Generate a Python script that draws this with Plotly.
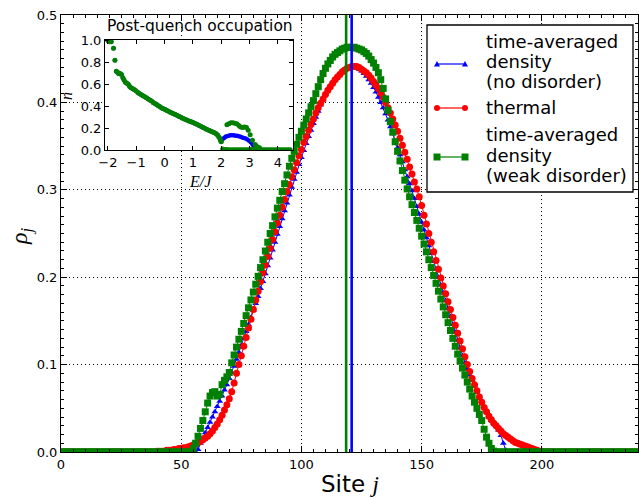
import plotly.graph_objects as go

# ---------------- main panel data ----------------
sites = list(range(0, 241))

thermal_start = 40
thermal_vals = [
    0.001, 0.001, 0.001, 0.001, 0.002, 0.002, 0.002, 0.003, 0.003, 0.004,
    0.004, 0.005, 0.005, 0.006, 0.007, 0.008, 0.009, 0.011, 0.012, 0.014,
    0.016, 0.018, 0.021, 0.024, 0.028, 0.032, 0.037, 0.042, 0.048, 0.054,
    0.061, 0.069, 0.079, 0.090, 0.100, 0.110, 0.121, 0.131, 0.142, 0.152,
    0.163, 0.174, 0.184, 0.195, 0.205, 0.214, 0.224, 0.233, 0.243, 0.252,
    0.262, 0.271, 0.280, 0.289, 0.298, 0.306, 0.315, 0.323, 0.331, 0.339,
    0.346, 0.354, 0.361, 0.368, 0.375, 0.381, 0.388, 0.394, 0.399, 0.404,
    0.409, 0.414, 0.418, 0.422, 0.426, 0.429, 0.432, 0.435, 0.437, 0.439,
    0.440, 0.441, 0.441, 0.441, 0.440, 0.438, 0.436, 0.434, 0.431, 0.428,
    0.424, 0.420, 0.416, 0.411, 0.406, 0.400, 0.394, 0.388, 0.381, 0.374,
    0.367, 0.359, 0.351, 0.343, 0.335, 0.326, 0.318, 0.309, 0.301, 0.292,
    0.282, 0.271, 0.261, 0.250, 0.240, 0.229, 0.219, 0.209, 0.199, 0.190,
    0.181, 0.172, 0.163, 0.154, 0.145, 0.136, 0.127, 0.118, 0.109, 0.100,
    0.092, 0.084, 0.077, 0.070, 0.063, 0.057, 0.051, 0.046, 0.041, 0.037,
    0.033, 0.030, 0.027, 0.024, 0.021, 0.019, 0.017, 0.015, 0.013, 0.011,
    0.010, 0.009, 0.008, 0.007, 0.006, 0.005, 0.004, 0.003, 0.002, 0.001, 0.001,
]

clean_start = 57
clean_vals = [
    0.003, 0.010, 0.016,
    0.022, 0.028, 0.034, 0.040, 0.046, 0.052, 0.058, 0.064, 0.071, 0.077,
    0.084, 0.091, 0.098, 0.106, 0.114, 0.122, 0.130, 0.138, 0.146, 0.154,
    0.162, 0.170, 0.178, 0.187, 0.195, 0.204, 0.213, 0.222, 0.231, 0.240,
    0.249, 0.258, 0.267, 0.276, 0.285, 0.294, 0.303, 0.312, 0.320, 0.329,
    0.337, 0.345, 0.353, 0.361, 0.368, 0.376, 0.383, 0.390, 0.397, 0.403,
    0.409, 0.414, 0.419, 0.423, 0.427, 0.430, 0.433, 0.436, 0.438, 0.440,
    0.441, 0.441, 0.441, 0.440, 0.438, 0.436, 0.433, 0.430, 0.426, 0.422,
    0.417, 0.412, 0.406, 0.400, 0.394, 0.387, 0.380, 0.372, 0.364, 0.356,
    0.348, 0.340, 0.332, 0.323, 0.315, 0.307, 0.299, 0.290, 0.281, 0.272,
    0.263, 0.254, 0.245, 0.236, 0.227, 0.218, 0.209, 0.200, 0.191, 0.182,
    0.173, 0.164, 0.155, 0.146, 0.137, 0.128, 0.119, 0.110, 0.102, 0.095,
    0.088, 0.082, 0.076, 0.070, 0.064, 0.058, 0.052, 0.046, 0.040, 0.036,
    0.033, 0.030, 0.025, 0.019, 0.010, 0.002,
]

weak_start = 55
weak_vals = [
    0.004, 0.010, 0.018, 0.027, 0.036,
    0.046, 0.056, 0.064, 0.068, 0.069, 0.064, 0.066, 0.077, 0.082, 0.086,
    0.091, 0.102, 0.111, 0.120, 0.129, 0.138, 0.147, 0.156, 0.165, 0.174,
    0.183, 0.192, 0.201, 0.211, 0.220, 0.230, 0.240, 0.250, 0.259, 0.269,
    0.279, 0.288, 0.298, 0.307, 0.317, 0.327, 0.336, 0.344, 0.352, 0.360,
    0.367, 0.374, 0.381, 0.388, 0.395, 0.402, 0.410, 0.418, 0.426, 0.433,
    0.439, 0.444, 0.448, 0.452, 0.455, 0.457, 0.459, 0.461, 0.462, 0.463,
    0.463, 0.463, 0.463, 0.462, 0.461, 0.460, 0.458, 0.456, 0.453, 0.449,
    0.445, 0.440, 0.434, 0.426, 0.416, 0.404, 0.391, 0.378, 0.366, 0.355,
    0.344, 0.333, 0.322, 0.311, 0.301, 0.292, 0.283, 0.274, 0.265, 0.256,
    0.247, 0.238, 0.229, 0.220, 0.211, 0.202, 0.193, 0.184, 0.175, 0.166,
    0.157, 0.148, 0.139, 0.130, 0.121, 0.112, 0.104, 0.096, 0.088, 0.080,
    0.072, 0.064, 0.057, 0.050, 0.043, 0.036, 0.026, 0.017, 0.010, 0.004, 0.001,
]

center_clean = 120.9
center_weak = 118.6

# ---------------- inset data ----------------
E_band = [-2.00, -1.97, -1.93, -1.88, -1.80, -1.75, -1.70, -1.66, -1.62, -1.57,
          -1.52, -1.47, -1.43, -1.38, -1.33, -1.28, -1.23, -1.18, -1.12, -1.06,
          -1.00, -0.94, -0.88, -0.82, -0.76, -0.70, -0.64, -0.58, -0.52, -0.46,
          -0.40, -0.34, -0.28, -0.22, -0.16, -0.10, -0.04, 0.02, 0.08, 0.14,
          0.20, 0.26, 0.32, 0.38, 0.44, 0.50, 0.56, 0.62, 0.68, 0.74,
          0.80, 0.86, 0.92, 0.98, 1.04, 1.10, 1.16, 1.22, 1.28, 1.34,
          1.40, 1.46, 1.52, 1.58, 1.64, 1.70, 1.76, 1.82, 1.87, 1.91,
          1.95, 1.98, 2.00]
n_band = [1.00, 1.00, 0.99, 0.99, 0.93, 0.82, 0.72, 0.71, 0.70, 0.70,
          0.69, 0.66, 0.64, 0.62, 0.61, 0.60, 0.58, 0.57, 0.56, 0.55,
          0.54, 0.525, 0.515, 0.505, 0.495, 0.486, 0.477, 0.467, 0.458, 0.449,
          0.435, 0.425, 0.415, 0.405, 0.395, 0.385, 0.376, 0.370, 0.362, 0.354,
          0.346, 0.338, 0.331, 0.325, 0.317, 0.309, 0.301, 0.293, 0.285, 0.278,
          0.272, 0.266, 0.260, 0.253, 0.246, 0.240, 0.232, 0.224, 0.216, 0.208,
          0.200, 0.193, 0.186, 0.179, 0.172, 0.165, 0.158, 0.148, 0.136, 0.122,
          0.105, 0.085, 0.075]

E_clean_high = [2.05, 2.10, 2.15, 2.20, 2.26, 2.32, 2.38, 2.44, 2.50, 2.56,
                2.62, 2.68, 2.74, 2.80, 2.86, 2.92, 2.98, 3.04, 3.10, 3.15, 3.20]
n_clean_high = [0.100, 0.110, 0.120, 0.125, 0.130, 0.135, 0.135, 0.135, 0.130, 0.130,
                0.125, 0.120, 0.115, 0.110, 0.105, 0.095, 0.085, 0.070, 0.050, 0.030, 0.010]

E_weak_high = [2.20, 2.27, 2.34, 2.41, 2.48, 2.55, 2.62, 2.68, 2.75, 2.82,
               2.89, 2.95, 3.02, 3.10, 3.20, 3.28, 3.35]
n_weak_high = [0.230, 0.240, 0.250, 0.250, 0.245, 0.240, 0.225, 0.210, 0.205, 0.210,
               0.205, 0.180, 0.140, 0.090, 0.050, 0.030, 0.020]

E_weak_zero = [2.05, 2.12, 2.19, 2.26, 2.33, 2.40, 2.47, 2.54, 2.61, 2.68,
               2.75, 2.82, 2.89, 2.96, 3.03, 3.10, 3.17, 3.24, 3.31, 3.38,
               3.45, 3.52, 3.59, 3.66, 3.73, 3.80, 3.87, 3.94, 4.01, 4.08,
               4.15, 4.22, 4.29, 4.36, 4.43]
n_weak_zero = [0.010, 0.005, 0.004, 0.003, 0.003, 0.003, 0.003, 0.003, 0.003, 0.003,
               0.003, 0.003, 0.003, 0.003, 0.004, 0.006, 0.006, 0.005, 0.004, 0.003,
               0.002, 0.002, 0.002, 0.002, 0.002, 0.002, 0.002, 0.002, 0.002, 0.002,
               0.002, 0.002, 0.002, 0.002, 0.002]

legend_labels = [
    ["time-averaged", "density", "(no disorder)"],
    ["thermal"],
    ["time-averaged", "density", "(weak disorder)"],
]

# ---------------- styling ----------------
BLUE = "#0000ff"
RED = "#ff0000"
GREEN = "#008000"
FONT = "DejaVu Sans"
MATH = "Liberation Serif"


def pad(start, vals):
    return [0.0] * start + list(vals) + [0.0] * (len(sites) - start - len(vals))


fig = go.Figure()

fig.add_trace(go.Scatter(x=sites, y=pad(clean_start, clean_vals), mode="lines+markers",
                         line=dict(color=BLUE, width=1),
                         marker=dict(symbol="triangle-up", size=6, color=BLUE),
                         xaxis="x", yaxis="y"))
fig.add_trace(go.Scatter(x=sites, y=pad(thermal_start, thermal_vals), mode="lines+markers",
                         line=dict(color=RED, width=1),
                         marker=dict(symbol="circle", size=7, color=RED),
                         xaxis="x", yaxis="y"))
fig.add_trace(go.Scatter(x=sites, y=pad(weak_start, weak_vals), mode="lines+markers",
                         line=dict(color=GREEN, width=1),
                         marker=dict(symbol="square", size=7, color=GREEN),
                         xaxis="x", yaxis="y"))

# inset traces
fig.add_trace(go.Scatter(x=E_band + E_clean_high, y=n_band + n_clean_high, mode="markers",
                         marker=dict(symbol="circle", size=4.5, color=BLUE),
                         xaxis="x2", yaxis="y2"))
fig.add_trace(go.Scatter(x=E_band + E_weak_high + E_weak_zero,
                         y=n_band + n_weak_high + n_weak_zero, mode="markers",
                         marker=dict(symbol="circle", size=5, color=GREEN),
                         xaxis="x2", yaxis="y2"))

L, R, T, B = 61, 1, 15, 46
W, H = 639, 498
PW, PH = W - L - R, H - T - B


def px(x):
    return (x - L) / PW


def py(y):
    return (H - B - y) / PH


shapes = []
# centre-of-mass vertical lines
for c, col in ((center_weak, GREEN), (center_clean, BLUE)):
    shapes.append(dict(type="line", xref="x", yref="y domain", x0=c, x1=c, y0=0, y1=1,
                       line=dict(color=col, width=2.6), layer="above"))

# inset opaque background (drawn in the inset subplot, above the main grid)
shapes.append(dict(type="rect", xref="x2", yref="y2", x0=-2.1, x1=4.53, y0=0, y1=1.01,
                   fillcolor="white", line=dict(width=0), layer="below"))

# custom legend box
shapes.append(dict(type="rect", xref="paper", yref="paper",
                   x0=px(427), x1=px(633), y0=py(192), y1=py(25),
                   fillcolor="white", line=dict(color="black", width=1.3), layer="above"))

leg_x0, leg_x1 = 437, 465
legend_rows = [
    (64, BLUE, "tri", [41, 61.5, 81.5]),
    (108, RED, "circle", [107]),
    (157, GREEN, "square", [134.5, 155, 175.5]),
]
annotations = []
for (ly, col, sym, text_y), lines in zip(legend_rows, legend_labels):
    shapes.append(dict(type="line", xref="paper", yref="paper",
                       x0=px(leg_x0), x1=px(leg_x1), y0=py(ly), y1=py(ly),
                       line=dict(color=col, width=1.2), layer="above"))
    for mx in (leg_x0, leg_x1):
        if sym == "circle":
            r = 3
            shapes.append(dict(type="circle", xref="paper", yref="paper",
                               x0=px(mx - r), x1=px(mx + r), y0=py(ly + r), y1=py(ly - r),
                               fillcolor=col, line=dict(width=0), layer="above"))
        elif sym == "square":
            r = 3.5
            shapes.append(dict(type="rect", xref="paper", yref="paper",
                               x0=px(mx - r), x1=px(mx + r), y0=py(ly + r), y1=py(ly - r),
                               fillcolor=col, line=dict(width=0), layer="above"))
        else:
            path = "M %.5f,%.5f L %.5f,%.5f L %.5f,%.5f Z" % (
                px(mx - 3), py(ly + 2.5), px(mx + 3), py(ly + 2.5), px(mx), py(ly - 3))
            shapes.append(dict(type="path", xref="paper", yref="paper", path=path,
                               fillcolor=col, line=dict(width=0), layer="above"))
    for line_text, ty in zip(lines, text_y):
        annotations.append(dict(xref="paper", yref="paper", x=px(484), y=py(ty),
                                xanchor="left", yanchor="middle", align="left",
                                text=line_text, showarrow=False,
                                font=dict(family=FONT, size=18, color="black")))

# axis titles and inset labels
annotations += [
    dict(xref="paper", yref="paper", x=px(350), y=py(484), xanchor="center", yanchor="middle",
         text="Site <i><span style='font-family:%s'>j</span></i>" % MATH, showarrow=False,
         font=dict(family=FONT, size=23, color="black")),
    dict(xref="paper", yref="paper", x=px(21), y=py(236), xanchor="center", yanchor="middle",
         text="<i>ρ</i><sub><i>j</i></sub>", textangle=-90, showarrow=False,
         font=dict(family=MATH, size=24, color="black")),
    dict(xref="paper", yref="paper", x=px(200), y=py(26), xanchor="center", yanchor="middle",
         text="Post-quench occupation", showarrow=False,
         font=dict(family=FONT, size=15.5, color="black")),
    dict(xref="paper", yref="paper", x=px(200), y=py(181), xanchor="center", yanchor="middle",
         text="<i>E/J</i>", showarrow=False,
         font=dict(family=MATH, size=16, color="black")),
    dict(xref="paper", yref="paper", x=px(67), y=py(96), xanchor="center", yanchor="middle",
         text="<i>n</i>", textangle=-90, showarrow=False,
         font=dict(family=MATH, size=16, color="black")),
]

axis_common = dict(showline=True, linecolor="black", linewidth=1, mirror="ticks",
                   ticks="inside", tickcolor="black", zeroline=False)

fig.update_layout(
    width=W, height=H,
    margin=dict(l=L, r=R, t=T, b=B, pad=0),
    paper_bgcolor="white", plot_bgcolor="white",
    showlegend=False,
    font=dict(family=FONT, size=13, color="black"),
    xaxis=dict(domain=[0, 1], anchor="y", range=[0, 240],
               tickvals=[0, 50, 100, 150, 200], ticklen=6, tickwidth=1,
               showgrid=True, gridcolor="black", griddash="1px,3px", gridwidth=1,
               minor=dict(ticks="inside", dtick=5, ticklen=3, tickcolor="black", showgrid=False),
               tickfont=dict(family=FONT, size=13), **axis_common),
    yaxis=dict(domain=[0, 1], anchor="x", range=[0, 0.5],
               tickvals=[0, 0.1, 0.2, 0.3, 0.4, 0.5], tickformat=".1f", ticklen=6, tickwidth=1,
               showgrid=True, gridcolor="black", griddash="1px,3px", gridwidth=1,
               minor=dict(ticks="inside", dtick=0.01, ticklen=3, tickcolor="black", showgrid=False),
               tickfont=dict(family=FONT, size=13), **axis_common),
    xaxis2=dict(domain=[px(105), px(293)], anchor="y2", range=[-2.1, 4.53],
                tickvals=[-2, -1, 0, 1, 2, 3, 4], ticklen=4, showgrid=False,
                tickfont=dict(family=FONT, size=13), **axis_common),
    yaxis2=dict(domain=[py(150), py(39.5)], anchor="x2", range=[0, 1.01],
                tickvals=[0, 0.2, 0.4, 0.6, 0.8, 1.0], tickformat=".1f", ticklen=4, showgrid=False,
                tickfont=dict(family=FONT, size=13), **axis_common),
    shapes=shapes,
    annotations=annotations,
)

fig.write_html(
    "out.html",
    config={"displayModeBar": False},
    post_script="document.body.style.margin='0px';document.body.style.overflow='hidden';",
)
